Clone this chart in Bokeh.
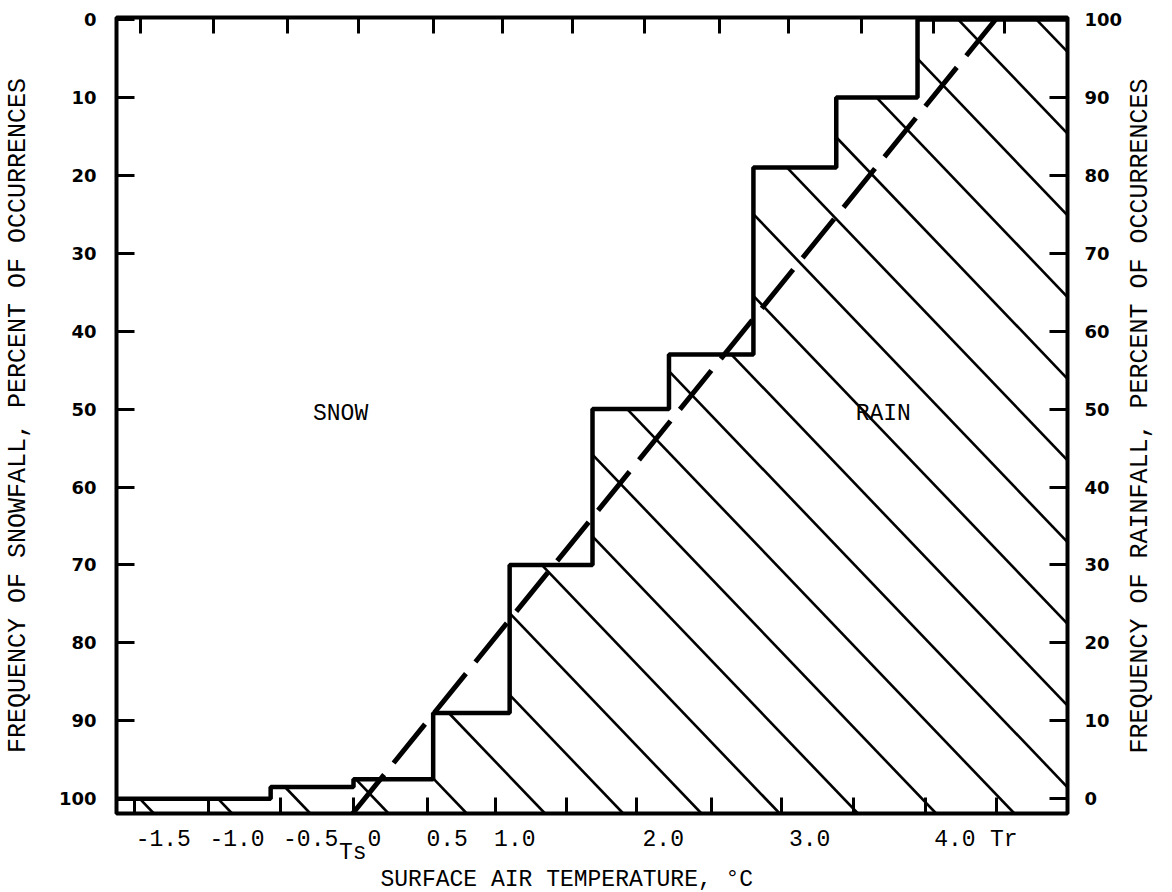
import math
from bokeh.plotting import figure
from bokeh.models import Range1d, LinearAxis, FixedTicker, Title
from bokeh.embed import file_html
from bokeh.resources import INLINE
from bokeh.core.properties import value

# ---------------- data ----------------
temp_bin_edges = [-1.5, -1.0, -0.52, 0.0, 0.5, 0.98, 1.5, 1.98, 2.51, 3.03, 3.54, 4.0, 4.5]
snow_pct = [100, 100, 98.5, 97.5, 89, 70, 50, 43, 19, 10, 0, 0]   # per bin
ts_temp = 0.07    # dashed line: 100 % snow
tr_temp = 4.03    # dashed line: 0 % snow

snow_ticks = [0, 10, 20, 30, 40, 50, 60, 70, 80, 90, 100]
rain_ticks = [0, 10, 20, 30, 40, 50, 60, 70, 80, 90, 100]

x_label_text = ["-1.5", "-1.0", "-0.5", "\nTs", "0", "0.5", "1.0", "2.0", "3.0", "4.0", "Tr"]
x_label_pos = [-1.194, -0.731, -0.269, -0.005, 0.131, 0.5875, 1.0125, 1.944, 2.8625, 3.775, 4.081]
x_tick_bottom = [-1.375, -0.9125, -0.456, 0.0, 0.4625, 0.894, 1.3375, 1.775,
                 2.244, 2.6875, 3.1375, 3.5875, 4.0375]
x_tick_top = [-1.3375, -0.881, -0.4125, 0.031, 0.5, 0.9375, 1.375, 1.825,
              2.294, 2.731, 3.1875, 3.6375, 4.0875]

x_title = "SURFACE AIR TEMPERATURE, °C"
left_title = "FREQUENCY OF SNOWFALL, PERCENT OF OCCURRENCES"
right_title = "FREQUENCY OF RAINFALL, PERCENT OF OCCURRENCES"

# ---------------- layout constants ----------------
X0, X1 = -1.4875, 4.48125
Y_TOP, Y_BOT = -0.26, 101.9
FRAME_W, FRAME_H = 955, 796
MONO = "Liberation Mono"

p = figure(width=1172, height=892,
           x_range=Range1d(X0, X1), y_range=Range1d(Y_BOT, Y_TOP),
           output_backend="svg", toolbar_location=None,
           min_border_left=115, min_border_right=102,
           min_border_top=17, min_border_bottom=79)
p.grid.visible = False
p.outline_line_color = "black"
p.outline_line_width = 4
p.background_fill_color = "white"
p.border_fill_color = "white"

p.extra_y_ranges = {"rain": Range1d(100 - Y_BOT, 100 - Y_TOP)}


def tick_marks(ax):
    ax.major_tick_line_color = None
    ax.minor_tick_in = 16
    ax.minor_tick_out = 0
    ax.minor_tick_line_width = 3
    ax.minor_tick_line_color = "black"
    ax.axis_line_color = None


# bottom axis: typed labels (major, no marks) + tick marks (minor)
bx = p.xaxis[0]
bx.ticker = FixedTicker(ticks=x_label_pos, minor_ticks=x_tick_bottom)
bx.major_label_overrides = {pos: t for pos, t in zip(x_label_pos, x_label_text)}
tick_marks(bx)
bx.major_label_standoff = 7
bx.major_label_text_font = MONO
bx.major_label_text_font_size = "23px"
bx.major_label_text_line_height = 0.5
bx.major_label_text_color = "black"

# x title
p.add_layout(Title(text=x_title, align="left", offset=264,
                   standoff=-8, text_font=MONO, text_font_size="23px",
                   text_font_style="normal", text_color="black"), "below")

# top tick marks
top_ax = LinearAxis(ticker=FixedTicker(ticks=[], minor_ticks=x_tick_top))
tick_marks(top_ax)
p.add_layout(top_ax, "above")

# left axis
ly = p.yaxis[0]
ly.ticker = FixedTicker(ticks=snow_ticks)
ly.major_tick_in = 18
ly.major_tick_out = 0
ly.major_tick_line_width = 3
ly.major_tick_line_color = "black"
ly.minor_tick_line_color = None
ly.axis_line_color = None
ly.major_label_text_font = "DejaVu Sans"
ly.major_label_text_font_style = "bold"
ly.major_label_text_font_size = "18px"
ly.major_label_text_color = "black"
ly.major_label_standoff = 20
ly.axis_label = left_title
ly.axis_label_text_font = MONO
ly.axis_label_text_font_style = "normal"
ly.axis_label_text_font_size = "25px"
ly.axis_label_text_color = "black"
ly.axis_label_standoff = 23

# right axis
ry = LinearAxis(y_range_name="rain", ticker=FixedTicker(ticks=rain_ticks))
ry.major_tick_in = 18
ry.major_tick_out = 0
ry.major_tick_line_width = 3
ry.major_tick_line_color = "black"
ry.minor_tick_line_color = None
ry.axis_line_color = None
ry.major_label_text_font = "DejaVu Sans"
ry.major_label_text_font_style = "bold"
ry.major_label_text_font_size = "18px"
ry.major_label_text_color = "black"
ry.major_label_standoff = 17
ry.axis_label_text_font = MONO
ry.axis_label_text_font_style = "normal"
ry.axis_label_text_font_size = "25px"
ry.axis_label_text_color = "black"
try:
    # read bottom-to-top like the reference; anchored at the start of the axis
    ry.axis_label_align = "start"
    ry.axis_label_orientation = math.pi / 2
    ry.axis_label = "\u00a0" * 4 + right_title
    ry.axis_label_standoff = 15
except AttributeError:
    ry.axis_label = right_title
    ry.axis_label_standoff = 6
p.add_layout(ry, "right")

# ---------------- hatch of the rain region (45 deg lines) ----------------
px_per_x = FRAME_W / (X1 - X0)
px_per_y = FRAME_H / (Y_BOT - Y_TOP)
HATCH_SLOPE = 1.04          # screen slope of the hatch lines
HATCH_START, HATCH_STEP = -1.253, 0.491
k = HATCH_SLOPE * px_per_x / px_per_y

hx0, hy0, hx1, hy1 = [], [], [], []
foot = HATCH_START
while foot - (Y_BOT - Y_TOP) / k < X1:
    for a, b, lev in zip(temp_bin_edges[:-1], temp_bin_edges[1:], snow_pct):
        bb = min(b, foot)
        if Y_BOT - (foot - bb) * k >= lev:
            xe = max(a, foot - (Y_BOT - lev) / k)
            hx0.append(xe)
            hy0.append(Y_BOT - (foot - xe) * k)
            hx1.append(foot)
            hy1.append(Y_BOT)
            break
    foot += HATCH_STEP

p.segment(hx0, hy0, hx1, hy1, line_color="black", line_width=2.6)

# ---------------- step curve ----------------
p.step(temp_bin_edges, snow_pct + [snow_pct[-1]], mode="after",
       line_color="black", line_width=4.5)

# ---------------- dashed Ts-Tr line ----------------
grad = (0 - 100) / (tr_temp - ts_temp)
xb = ts_temp + (Y_BOT - 100) / grad
xt = ts_temp + (Y_TOP - 100) / grad
p.line([xb, xt], [Y_BOT, Y_TOP], line_color="black", line_width=5,
       line_dash="50 15", line_cap="butt")

# ---------------- texts ----------------
p.text(x=[-0.081, 3.325], y=[50.6, 50.6], text=["SNOW", "RAIN"],
       text_font=value(MONO), text_font_size="23px",
       text_align="center", text_baseline="middle", text_color="black")

open("out.html", "w").write(file_html(p, INLINE))
